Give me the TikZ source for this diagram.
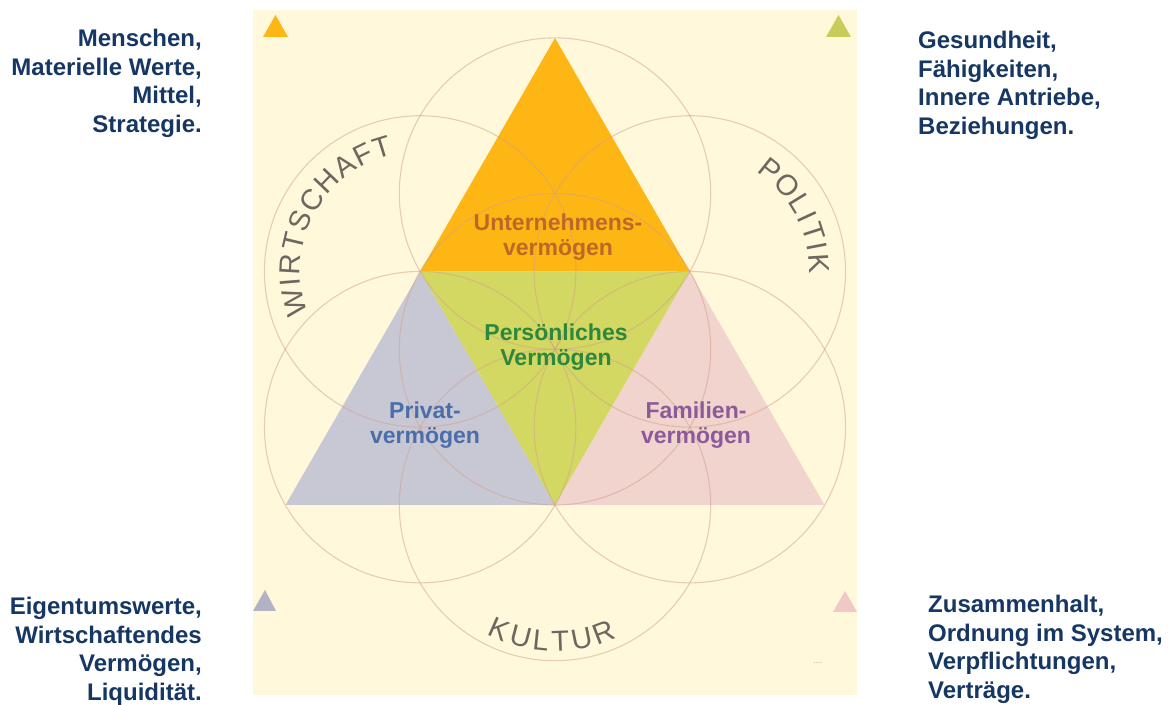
\documentclass[tikz,border=0pt]{standalone}
\usepackage{fontspec}
\setmainfont{Liberation Sans}
\usetikzlibrary{calc}

\definecolor{navy}{RGB}{22,55,100}
\definecolor{cream}{RGB}{255,248,219}
\definecolor{ringline}{RGB}{210,160,140}
\definecolor{ringgrey}{RGB}{108,104,95}
\definecolor{uorange}{RGB}{253,182,20}
\definecolor{pgreen}{RGB}{210,216,98}
\definecolor{pgrey}{RGB}{200,200,212}
\definecolor{fpink}{RGB}{240,212,205}
\definecolor{olive}{RGB}{200,204,90}
\definecolor{mauve}{RGB}{240,200,200}
\definecolor{greyblue}{RGB}{178,178,198}
\definecolor{utext}{RGB}{190,104,40}
\definecolor{ptext}{RGB}{45,135,60}
\definecolor{vtext}{RGB}{75,110,170}
\definecolor{ftext}{RGB}{140,90,155}

\tikzset{
ring/.style = {draw=ringline, line width=1.1pt, draw opacity=0.5},
side/.style = {text=navy, font=\bfseries\fontsize{24}{28.5}\selectfont, inner sep=0pt},
field/.style = {font=\bfseries\fontsize{23}{25.5}\selectfont, align=center, inner sep=0pt},
ringletter/.style = {text=ringgrey, font=\fontsize{29}{29}\selectfont, inner sep=0pt}
}

\begin{document}
\begin{tikzpicture}[x=1pt,y=1pt]
\fill[white] (0,0) rectangle (1172,704);
\useasboundingbox (0,0) rectangle (1172,704);
\fill[cream] (253,9) rectangle (857,694);

% outer triangle and its midpoints
\coordinate (A) at (555,666);
\coordinate (B) at (285.5,199);
\coordinate (C) at (824.5,199);
\coordinate (AB) at ($(A)!0.5!(B)$);
\coordinate (AC) at ($(A)!0.5!(C)$);
\coordinate (BC) at ($(B)!0.5!(C)$);
\coordinate (O) at (555,354.7);

\fill[uorange] (A) -- (AB) -- (AC) -- cycle;
\fill[pgrey] (AB) -- (B) -- (BC) -- cycle;
\fill[fpink] (AC) -- (BC) -- (C) -- cycle;
\fill[pgreen] (AB) -- (AC) -- (BC) -- cycle;

% seven rings
\draw[ring] (O) circle (155.7);
\foreach \a in {30,90,...,330}
  \draw[ring] (O) ++(\a:155.7) circle (155.7);

% corner marks
\fill[uorange] (263,667) -- (288,667) -- (275.5,689) -- cycle;
\fill[olive] (826,667) -- (851,667) -- (838.5,689) -- cycle;
\fill[greyblue] (253,93) -- (276,93) -- (265,114) -- cycle;
\fill[mauve] (833,92) -- (857,92) -- (845,113) -- cycle;

\node[field, text=utext] (unt) at (558,467) {Unternehmens-\\vermögen};
\node[field, text=ptext] (pers) at (556,357) {Persönliches\\Vermögen};
\node[field, text=vtext] (priv) at (425,279) {Privat-\\vermögen};
\node[field, text=ftext] (fam) at (696,279) {Familien-\\vermögen};

% lettering round the outer rings
\foreach \ch/\t [count=\i] in {W/194,I/184.7,R/176.7,T/166.8,S/157.1,C/146.8,H/136.2,A/125.9,F/116.3,T/107}
  \node[ringletter, rotate=\t-90] (wirt\i) at ($(AB)+(\t:130)$) {\ch};
\foreach \ch/\t [count=\i] in {P/51.5,O/41.2,L/31.5,I/24.85,T/17.85,I/10.85,K/3.5}
  \node[ringletter, rotate=\t-90] (pol\i) at ($(AC)+(\t:130)$) {\ch};
\foreach \ch/\t [count=\i] in {K/246,U/255.4,L/264.1,T/272.2,U/281.3,R/291}
  \node[ringletter, rotate=\t+90] (kul\i) at ($(BC)+(\t:136)$) {\ch};

\node[side, anchor=north east, align=right] (tl) at (202,675) {Menschen,\\Materielle Werte,\\Mittel,\\Strategie.};
\node[side, anchor=north west, align=left] (tr) at (918,673) {Gesundheit,\\Fähigkeiten,\\Innere Antriebe,\\Beziehungen.};
\node[side, anchor=north east, align=right] (bl) at (202,107) {Eigentumswerte,\\Wirtschaftendes\\Vermögen,\\Liquidität.};
\node[side, anchor=north west, align=left] (br) at (928,109) {Zusammenhalt,\\Ordnung im System,\\Verpflichtungen,\\Verträge.};

\node[text=ringgrey!60, font=\fontsize{8}{8}\selectfont, inner sep=0pt] (dots) at (818,41) {....};
\end{tikzpicture}
\end{document}
